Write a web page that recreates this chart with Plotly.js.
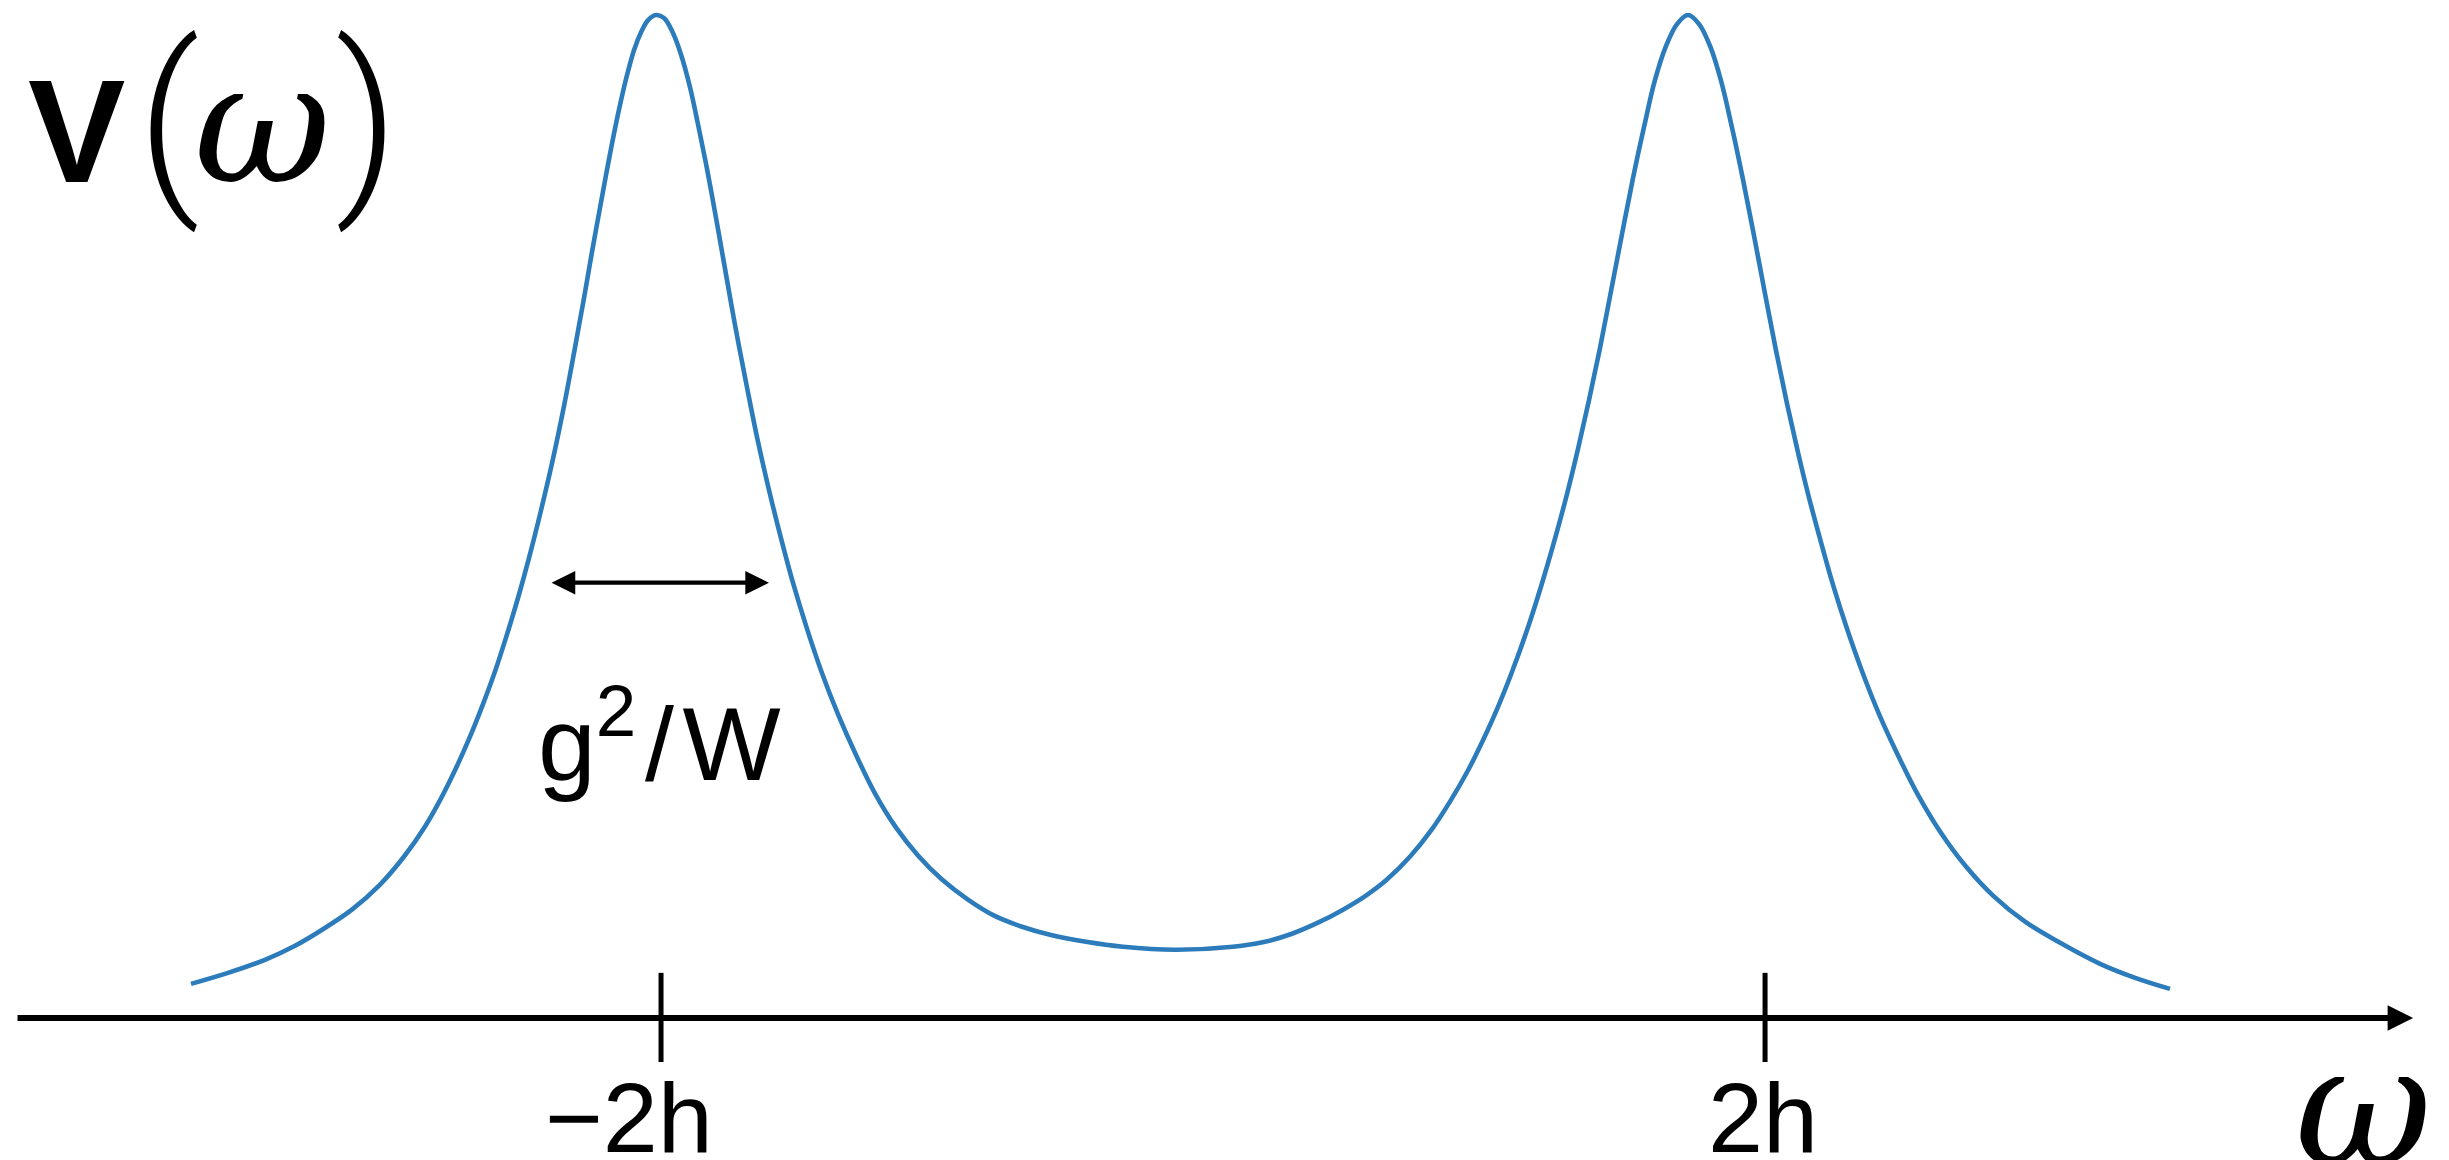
<!DOCTYPE html>
<html>
<head>
<meta charset="utf-8">
<script src="https://cdn.plot.ly/plotly-3.0.1.min.js"></script>
<style>
  html, body { margin: 0; padding: 0; background: #ffffff; }
  #chart { width: 2449px; height: 1160px; }
</style>
</head>
<body>
<div id="chart"></div>
<script>
// Spectral function V(omega): two broadened peaks near omega = -2h and omega = +2h
const omega = [
  -3.703, -3.569, -3.435, -3.326, -3.228, -3.120, -3.018, -2.931, -2.855, -2.801,
  -2.750, -2.696, -2.645, -2.601, -2.562, -2.518, -2.478, -2.435, -2.395, -2.351,
  -2.312, -2.279, -2.250, -2.217, -2.188, -2.156, -2.127, -2.098, -2.072, -2.047,
  -2.018,
  -1.989, -1.960, -1.928, -1.895, -1.866, -1.833, -1.801, -1.772, -1.732, -1.688,
  -1.649, -1.605, -1.565, -1.522, -1.471, -1.417, -1.359, -1.293, -1.225, -1.149,
  -1.069, -0.982, -0.888, -0.793, -0.692, -0.591, -0.460, -0.326, -0.138, 0.072,
  0.188, 0.286, 0.380, 0.471, 0.554, 0.630, 0.714, 0.790, 0.859, 0.924,
  0.978, 1.029, 1.083, 1.138, 1.188, 1.243, 1.283, 1.322, 1.362, 1.402,
  1.442, 1.482, 1.522, 1.562, 1.601, 1.641, 1.681, 1.721,
  1.761, 1.801, 1.841, 1.880, 1.920, 1.960, 2.000, 2.040, 2.080, 2.120,
  2.159, 2.199, 2.246, 2.297, 2.351, 2.413, 2.478, 2.551, 2.634, 2.725,
  2.826, 2.942, 3.069, 3.214, 3.341, 3.467
];
const V = [
  0.034, 0.045, 0.058, 0.072, 0.088, 0.108, 0.133, 0.161, 0.191, 0.217,
  0.245, 0.278, 0.313, 0.346, 0.379, 0.419, 0.459, 0.506, 0.553, 0.611,
  0.668, 0.718, 0.764, 0.814, 0.857, 0.901, 0.936, 0.965, 0.983, 0.995,
  1.000,
  0.997, 0.984, 0.961, 0.928, 0.891, 0.846, 0.798, 0.753, 0.691, 0.628,
  0.575, 0.522, 0.478, 0.434, 0.388, 0.344, 0.303, 0.262, 0.224, 0.190,
  0.162, 0.138, 0.118, 0.102, 0.091, 0.083, 0.076, 0.071, 0.068, 0.071,
  0.076, 0.084, 0.095, 0.108, 0.122, 0.138, 0.161, 0.187, 0.216, 0.247,
  0.277, 0.308, 0.345, 0.387, 0.430, 0.482, 0.523, 0.567, 0.616, 0.668,
  0.725, 0.782, 0.838, 0.889, 0.935, 0.969, 0.991, 1.000,
  0.991, 0.969, 0.934, 0.888, 0.836, 0.780, 0.722, 0.665, 0.612, 0.563,
  0.519, 0.478, 0.432, 0.388, 0.346, 0.303, 0.264, 0.224, 0.186, 0.152,
  0.122, 0.096, 0.075, 0.054, 0.040, 0.029
];

// Axis ticks and their labels
const tickVals = [-2, 2];
const tickText = ['\u22122h', '2h'];

// Peak-width marker on the left peak
const widthSpan = [-2.402, -1.609];
const widthLevel = 0.434;
const widthLabel = 'g<sup>2</sup>\u200a/\u200aW';

// Axis names
const yName = 'V';
const xName = '\u03c9';

// ---- layout helpers ----
const W = 2449, H = 1160;
const xRange = [-4.395, 4.478];
const yRange = [-0.1416, 1.015];
const axisEnds = [-4.337, 4.348];
const px = x => x / W;
const py = y => 1 - y / H;

const sans = 'Liberation Sans, Arial, Helvetica, sans-serif';
const mathItalic = 'DejaVu Serif, Liberation Serif, serif';
const parenFont = 'Roboto, Liberation Sans, sans-serif';

const curve = {
  x: omega,
  y: V,
  type: 'scatter',
  mode: 'lines',
  line: { color: '#2c7bbb', width: 4.6, shape: 'spline', smoothing: 1, simplify: false },
  hoverinfo: 'skip'
};

const tickFont = 99;
const annotations = [];

// horizontal omega axis with arrow
annotations.push({
  x: axisEnds[1], y: 0, ax: axisEnds[0], ay: 0,
  xref: 'x', yref: 'y', axref: 'x', ayref: 'y',
  text: '', showarrow: true, arrowhead: 2, arrowsize: 0.85,
  arrowwidth: 6, arrowcolor: '#000000', standoff: 0
});

// tick labels: the digits sit centred under the tick, a leading minus hangs left
tickVals.forEach((v, i) => {
  const t = tickText[i];
  annotations.push({
    x: v, y: -0.0997, xref: 'x', yref: 'y',
    text: t, showarrow: false, xanchor: 'center', yanchor: 'middle',
    xshift: t.startsWith('\u2212') ? -0.32 * tickFont : -2,
    font: { family: sans, size: tickFont, color: '#000000' }
  });
});

// double-headed width arrow
annotations.push({
  x: widthSpan[1], y: widthLevel, ax: widthSpan[0], ay: widthLevel,
  xref: 'x', yref: 'y', axref: 'x', ayref: 'y',
  text: '', showarrow: true, arrowside: 'end+start',
  arrowhead: 2, startarrowhead: 2, arrowsize: 1.1, startarrowsize: 1.1,
  arrowwidth: 4.3, arrowcolor: '#000000', standoff: 0, startstandoff: 0
});
annotations.push({
  x: (widthSpan[0] + widthSpan[1]) / 2, y: 0.2137, xref: 'x', yref: 'y',
  text: widthLabel, showarrow: false, xanchor: 'center', yanchor: 'bottom',
  font: { family: sans, size: 104, color: '#000000' }
});

// vertical axis name V(omega)
annotations.push({
  x: px(26), y: py(215), xref: 'paper', yref: 'paper',
  text: '<b>' + yName + '</b>', showarrow: false, xanchor: 'left', yanchor: 'bottom',
  font: { family: sans, size: 146, color: '#000000' }
});
annotations.push({
  x: px(168), y: py(120), xref: 'paper', yref: 'paper',
  text: '(', showarrow: false, xanchor: 'center', yanchor: 'middle',
  font: { family: parenFont, size: 197, weight: 300, color: '#000000' }
});
annotations.push({
  x: px(262), y: py(124), xref: 'paper', yref: 'paper',
  text: '<i>' + xName + '</i>', showarrow: false, xanchor: 'center', yanchor: 'middle',
  font: { family: mathItalic, size: 168, color: '#000000' }
});
annotations.push({
  x: px(367), y: py(120), xref: 'paper', yref: 'paper',
  text: ')', showarrow: false, xanchor: 'center', yanchor: 'middle',
  font: { family: parenFont, size: 197, weight: 300, color: '#000000' }
});

// horizontal axis name omega
annotations.push({
  x: px(2363), y: py(1107), xref: 'paper', yref: 'paper',
  text: '<i>' + xName + '</i>', showarrow: false, xanchor: 'center', yanchor: 'middle',
  font: { family: mathItalic, size: 168, color: '#000000' }
});

// tick marks
const shapes = tickVals.map(v => ({
  type: 'line', xref: 'x', yref: 'y',
  x0: v, x1: v, y0: 0.045, y1: -0.0439,
  line: { color: '#000000', width: 5 }
}));

const layout = {
  width: W, height: H,
  margin: { l: 0, r: 0, t: 0, b: 0, pad: 0 },
  paper_bgcolor: '#ffffff', plot_bgcolor: '#ffffff',
  showlegend: false,
  xaxis: { range: xRange, visible: false, fixedrange: true },
  yaxis: { range: yRange, visible: false, fixedrange: true },
  annotations: annotations,
  shapes: shapes
};

Plotly.newPlot('chart', [curve], layout, { staticPlot: true, displayModeBar: false });
</script>
</body>
</html>
